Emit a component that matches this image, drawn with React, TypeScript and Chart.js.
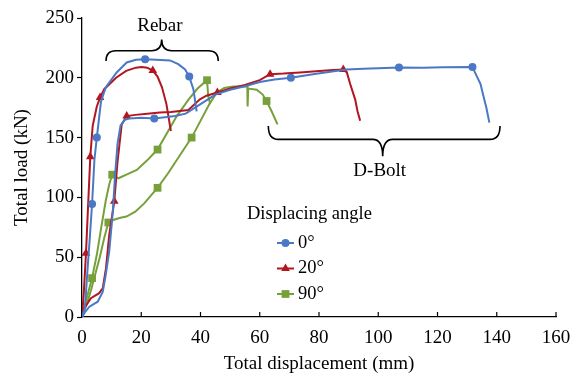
import { useEffect, useRef } from 'react';
import { Chart, registerables } from 'chart.js';
import { drawPoint } from 'chart.js/helpers';
Chart.register(...registerables);

// ---- axes ----
const xTickValues = [0, 20, 40, 60, 80, 100, 120, 140, 160];
const yTickValues = [0, 50, 100, 150, 200, 250];
const legendTitle = 'Displacing angle';
const angleLabels = ['0°', '20°', '90°'];
const rebarLabel = 'Rebar';
const boltLabel = 'D-Bolt';

// ---- 0° (blue) ----
const blueRebarX = [0, 1, 1.9, 2.6, 3.4, 4.2, 5, 6.4, 8, 11.7, 15.1, 18.2, 21.3, 25, 29.7, 32.5, 34.8, 36.2, 37.6, 38.7];
const blueRebarY = [0, 8, 41, 65, 94.5, 131.7, 150, 180, 192, 204.5, 212.8, 215, 215.5, 215, 214.5, 211.4, 207, 201, 190.5, 172];
const blueRebarMarkX = [3.4, 5, 21.3, 36.2];
const blueRebarMarkY = [94.5, 150, 215.5, 201];
const blueBoltX = [0, 1, 2.5, 5.3, 7, 8, 9.2, 10.4, 11.2, 12, 13, 14.5, 16, 20, 24.4, 28, 31.4, 35, 40, 45, 50, 55, 60, 65, 70.5, 78, 85, 89.4, 95, 100, 107, 115, 122, 131.8, 133.2, 134.5, 135.5, 136.5, 137.5];
const blueBoltY = [0, 4, 8.6, 12.8, 21, 35, 55, 88, 120, 145, 160, 165, 166, 166.5, 166, 167, 168, 170, 178, 186, 190, 193, 196.5, 198.5, 200, 203, 205.5, 207, 207.5, 208, 208.6, 208.5, 208.8, 209, 201.6, 195, 184.8, 175, 162.5];
const blueBoltMarkX = [24.4, 70.5, 107, 131.8];
const blueBoltMarkY = [166, 200, 208.6, 209];

// ---- 20° (red) ----
const redRebarX = [0, 0.6, 1.35, 2, 2.8, 3.6, 5, 6.1, 7.5, 11.5, 14.9, 18.2, 20.1, 22, 23.9, 25.5, 27, 28.5, 30];
const redRebarY = [0, 20, 53.4, 90, 134, 159.7, 176, 183.5, 190.5, 200, 205.8, 208.5, 209, 208.5, 206, 201, 192, 178, 155.5];
const redRebarMarkX = [1.35, 2.8, 6.1, 23.9];
const redRebarMarkY = [53.4, 134, 183.5, 206];
const redBoltX = [0, 0.8, 3, 5.8, 7, 8.1, 9.2, 10.9, 12, 13.4, 15.1, 18, 22, 26.3, 30, 35.9, 39.8, 42, 45.7, 50, 55, 60, 63.5, 68, 73.6, 79, 84.8, 88.2, 89.4, 90.5, 92.2, 93, 93.9];
const redBoltY = [0, 7.3, 15.7, 19.9, 24, 40.8, 68.8, 96.7, 130, 161, 168, 169, 170, 171, 171.5, 173, 182, 185, 187.7, 191, 194, 198, 203, 203.5, 204.5, 205.5, 206.6, 207, 204.5, 195, 182, 172, 164];
const redBoltMarkX = [10.9, 15.1, 45.7, 63.5, 88.2];
const redBoltMarkY = [96.7, 168, 187.7, 203, 207];

// ---- 90° (green) ----
const greenRebarX = [0, 1.5, 3.4, 5, 6.5, 8, 9.2, 10.2, 12.3, 15, 18.5, 22, 25.5, 29, 32, 36, 39, 42.2, 42.6, 43.2];
const greenRebarY = [0, 15, 32.5, 52, 75, 97, 111, 119, 116, 119, 123, 131, 140, 155, 168, 182, 191, 198, 185, 179];
const greenRebarMarkX = [3.4, 10.2, 25.5, 42.2];
const greenRebarMarkY = [32.5, 119, 140, 198];
const greenBoltX = [0, 1.5, 3, 4.5, 6, 7.5, 8.9, 11, 13, 15, 18, 21, 25.5, 29, 33, 37, 40, 43, 45.5, 48, 51, 54.5, 55.8, 55.9, 56.1, 59, 61, 62.3, 64, 66];
const greenBoltY = [0, 10, 22, 36, 50, 66, 79, 81.5, 83, 84, 88, 95, 108, 120, 135, 150, 164, 178, 187.7, 191.5, 192.7, 192.7, 193, 176, 191, 190, 186, 180.6, 172, 161];
const greenBoltMarkX = [8.9, 25.5, 37, 62.3];
const greenBoltMarkY = [79, 108, 150, 180.6];

const FONT = '"Liberation Serif", "Times New Roman", serif';
const BLUE = '#4a78c4';
const RED = '#b2161f';
const GREEN = '#78a03a';

const pts = (xs: number[], ys: number[]) => xs.map((x, i) => ({ x, y: ys[i] }));

export default function App() {
  const ref = useRef<HTMLCanvasElement>(null);
  useEffect(() => {
    document.body.style.margin = '0';
    const series = [
      { color: BLUE, style: 'circle', radius: 4, curves: [[blueRebarX, blueRebarY, blueRebarMarkX, blueRebarMarkY], [blueBoltX, blueBoltY, blueBoltMarkX, blueBoltMarkY]] },
      { color: RED, style: 'triangle', radius: 5, curves: [[redRebarX, redRebarY, redRebarMarkX, redRebarMarkY], [redBoltX, redBoltY, redBoltMarkX, redBoltMarkY]] },
      { color: GREEN, style: 'rect', radius: 5.5, curves: [[greenRebarX, greenRebarY, greenRebarMarkX, greenRebarMarkY], [greenBoltX, greenBoltY, greenBoltMarkX, greenBoltMarkY]] },
    ];
    const datasets: any[] = [];
    series.forEach((s, si) => {
      s.curves.forEach((c) => {
        datasets.push({
          label: angleLabels[si],
          data: pts(c[2], c[3]),
          showLine: false,
          pointStyle: s.style,
          pointRadius: s.radius,
          pointBackgroundColor: s.color,
          pointBorderColor: s.color,
          pointBorderWidth: 0,
        });
        datasets.push({
          label: angleLabels[si],
          data: pts(c[0], c[1]),
          showLine: true,
          borderColor: s.color,
          borderWidth: 2,
          pointRadius: 0,
          tension: 0,
        });
      });
    });

    const overlay = {
      id: 'overlay',
      afterDraw(chart: any) {
        const ctx = chart.ctx;
        const xs = chart.scales.x;
        const ys = chart.scales.y;
        const area = chart.chartArea;
        ctx.save();
        // inward x ticks
        ctx.strokeStyle = '#000';
        ctx.lineWidth = 1.2;
        xTickValues.forEach((v) => {
          if (v === 0) return;
          const px = xs.getPixelForValue(v);
          ctx.beginPath();
          ctx.moveTo(px, area.bottom);
          ctx.lineTo(px, area.bottom - 5);
          ctx.stroke();
        });
        // braces
        const brace = (x0: number, x1: number, xc: number, yEnd: number, yLine: number, yCusp: number) => {
          const X0 = xs.getPixelForValue(x0), X1 = xs.getPixelForValue(x1), XC = xs.getPixelForValue(xc);
          const YE = ys.getPixelForValue(yEnd), YL = ys.getPixelForValue(yLine), YC = ys.getPixelForValue(yCusp);
          const r = 10;
          ctx.beginPath();
          ctx.moveTo(X0, YE);
          ctx.quadraticCurveTo(X0, YL, X0 + r, YL);
          ctx.lineTo(XC - r, YL);
          ctx.quadraticCurveTo(XC, YL, XC, YC);
          ctx.moveTo(XC, YC);
          ctx.quadraticCurveTo(XC, YL, XC + r, YL);
          ctx.lineTo(X1 - r, YL);
          ctx.quadraticCurveTo(X1, YL, X1, YE);
          ctx.lineWidth = 1.6;
          ctx.stroke();
        };
        brace(8.1, 46, 26.9, 214, 222.6, 232);
        brace(62.9, 141.1, 101.5, 159.7, 148.5, 134.5);
        ctx.fillStyle = '#000';
        ctx.font = '19px ' + FONT;
        ctx.textAlign = 'center';
        ctx.textBaseline = 'middle';
        ctx.fillText(rebarLabel, xs.getPixelForValue(26.3), ys.getPixelForValue(243));
        ctx.fillText(boltLabel, xs.getPixelForValue(100.5), ys.getPixelForValue(122));
        // legend
        ctx.textAlign = 'left';
        ctx.font = '18.5px ' + FONT;
        ctx.fillText(legendTitle, 247, 214);
        series.forEach((s, i) => {
          const y = 243 + i * 25.5;
          ctx.strokeStyle = s.color;
          ctx.fillStyle = s.color;
          ctx.lineWidth = 2;
          ctx.beginPath();
          ctx.moveTo(277, y);
          ctx.lineTo(294, y);
          ctx.stroke();
          drawPoint(ctx, { pointStyle: s.style, radius: s.radius, rotation: 0, borderWidth: 0 } as any, 285.5, y);
          ctx.fillStyle = '#000';
          ctx.fillText(angleLabels[i], 298, y);
        });
        ctx.restore();
      },
    };

    const chart = new Chart(ref.current!, {
      type: 'scatter',
      data: { datasets },
      plugins: [overlay],
      options: {
        animation: false,
        responsive: false,
        layout: { padding: { top: 18, right: 30, left: 0, bottom: 0 } },
        plugins: { legend: { display: false }, tooltip: { enabled: false } },
        scales: {
          x: {
            type: 'linear',
            min: 0,
            max: 160,
            afterFit: (s: any) => { s.height = 59; },
            afterBuildTicks: (s: any) => { s.ticks = xTickValues.map((v) => ({ value: v })); },
            grid: { display: false },
            border: { display: true, color: '#000', width: 1.3 },
            ticks: { color: '#000', font: { family: FONT, size: 19 }, padding: 2, maxRotation: 0 },
            title: { display: true, text: 'Total displacement (mm)', color: '#000', font: { family: FONT, size: 19 }, padding: { top: 0, bottom: 1 } },
          },
          y: {
            type: 'linear',
            min: 0,
            max: 250,
            afterFit: (s: any) => { s.width = 82; },
            afterBuildTicks: (s: any) => { s.ticks = yTickValues.map((v) => ({ value: v })); },
            grid: { drawOnChartArea: false, drawTicks: true, tickLength: 5, color: '#000', tickColor: '#000', tickWidth: 1.2 },
            border: { display: true, color: '#000', width: 1.3 },
            ticks: { color: '#000', font: { family: FONT, size: 19 }, padding: 3 },
            title: { display: true, text: 'Total load (kN)', color: '#000', font: { family: FONT, size: 19 }, padding: { top: 11, bottom: 0 } },
          },
        },
      } as any,
    });
    return () => chart.destroy();
  }, []);
  return <canvas ref={ref} width={586} height={376} style={{ display: 'block' }} />;
}
